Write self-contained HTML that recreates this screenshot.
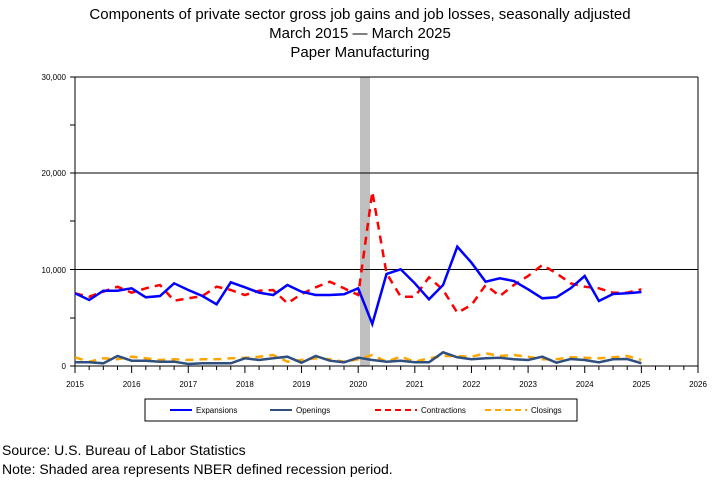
<!DOCTYPE html><html><head><style>body{margin:0;background:#fff}svg{display:block;font-family:"Liberation Sans",sans-serif}</style></head><body>
<svg id="s" width="720" height="480" xmlns="http://www.w3.org/2000/svg">
<rect width="720" height="480" fill="#fff"/>
<text x="360" y="19" font-size="15" text-anchor="middle">Components of private sector gross job gains and job losses, seasonally adjusted</text>
<text x="360" y="38" font-size="15" text-anchor="middle">March 2015 — March 2025</text>
<text x="360" y="57" font-size="15" text-anchor="middle">Paper Manufacturing</text>
<rect x="360" y="77" width="10" height="289" fill="#c0c0c0"/>
<g stroke="#000" stroke-width="1">
<line x1="75" y1="77" x2="698" y2="77"/><line x1="75" y1="173" x2="698" y2="173"/><line x1="75" y1="269.5" x2="698" y2="269.5"/>
<line x1="75" y1="77" x2="75" y2="366"/><line x1="698" y1="77" x2="698" y2="366"/><line x1="75" y1="366" x2="698" y2="366"/>
</g>
<g id="ax"></g>
<g font-size="8" text-anchor="end"><text x="66" y="80">30,000</text><text x="66" y="176">20,000</text><text x="66" y="273">10,000</text><text x="66" y="369">0</text></g>
<g id="d"></g>
<rect x="145" y="399" width="432" height="22" fill="#fff" stroke="#000"/>
<g font-size="8">
<line x1="170" y1="410" x2="192" y2="410" stroke="#0000ff" stroke-width="2"/><text x="196" y="413">Expansions</text>
<line x1="270" y1="410" x2="292" y2="410" stroke="#2f4f7f" stroke-width="2"/><text x="296" y="413">Openings</text>
<line x1="375" y1="410" x2="417" y2="410" stroke="#ff0000" stroke-width="2" stroke-dasharray="6,4"/><text x="421" y="413">Contractions</text>
<line x1="485" y1="410" x2="527" y2="410" stroke="#ffa500" stroke-width="2" stroke-dasharray="6,4"/><text x="531" y="413">Closings</text>
</g>
<text x="2" y="455" font-size="14">Source: U.S. Bureau of Labor Statistics</text>
<text x="2" y="474" font-size="14">Note: Shaded area represents NBER defined recession period.</text>
</svg>
<script>
var NS="http://www.w3.org/2000/svg",ax=document.getElementById("ax"),d=document.getElementById("d");
function el(t,a,p){var e=document.createElementNS(NS,t);for(var k in a)e.setAttribute(k,a[k]);(p||ax).appendChild(e);return e;}
var step=(698-75)/44;
for(var i=0;i<=44;i++){var x=75+i*step;el("line",{x1:x,y1:366,x2:x,y2:i%4?370:373,stroke:"#000"});
if(i%4==0){var t=el("text",{x:x,y:387,"font-size":8,"text-anchor":"middle"});t.textContent=2015+i/4;}}
[77,125,173,221,269.5,318,366].forEach(function(y,j){el("line",{x1:70,y1:y,x2:75,y2:y,stroke:"#000"});});
var E1=[370,390,362,362,355,382,378,340,360,378,403,337,352,368,375,345,365,375,375,373,355],E2=[462,312,298,340,388,345,230,278,335,325,333,358,385,382,355,318,393,372,370,366];
var C1=[370,380,365,350,368,355,345,392,385,378,350,360,375,362,360,400,372,352,335,355,375],C2=[65,310,380,380,322,360,428,405,345,378,345,318,285,310,340,350,355,368,368,358];
var O1=[577,577,580,558,572,572,575,575,582,580,580,580,565,570,565,560,578,558,572,577,563],O2=[570,575,572,577,577,547,562,568,565,563,568,570,560,578,567,570,577,568,567,580];
var L1=[562,575,565,568,560,565,570,568,570,568,568,565,563,560,555,575,570,565,568,575,568],L2=[555,575,560,575,565,558,558,560,550,558,555,560,568,568,562,563,565,562,558,570];
function pts(a,b){return a.concat(b).map(function(z,i){return (75+i*step).toFixed(1)+","+(170+z/3).toFixed(1)}).join(" ");}
el("polyline",{points:pts(L1,L2),fill:"none",stroke:"#ffa500","stroke-width":2.5,"stroke-dasharray":"8,6"},d);
el("polyline",{points:pts(O1,O2),fill:"none",stroke:"#2f4f7f","stroke-width":2.5},d);
el("polyline",{points:pts(C1,C2),fill:"none",stroke:"#ff0000","stroke-width":2.5,"stroke-dasharray":"8,6"},d);
el("polyline",{points:pts(E1,E2),fill:"none",stroke:"#0000ff","stroke-width":2.5},d);
</script>
</body></html>
